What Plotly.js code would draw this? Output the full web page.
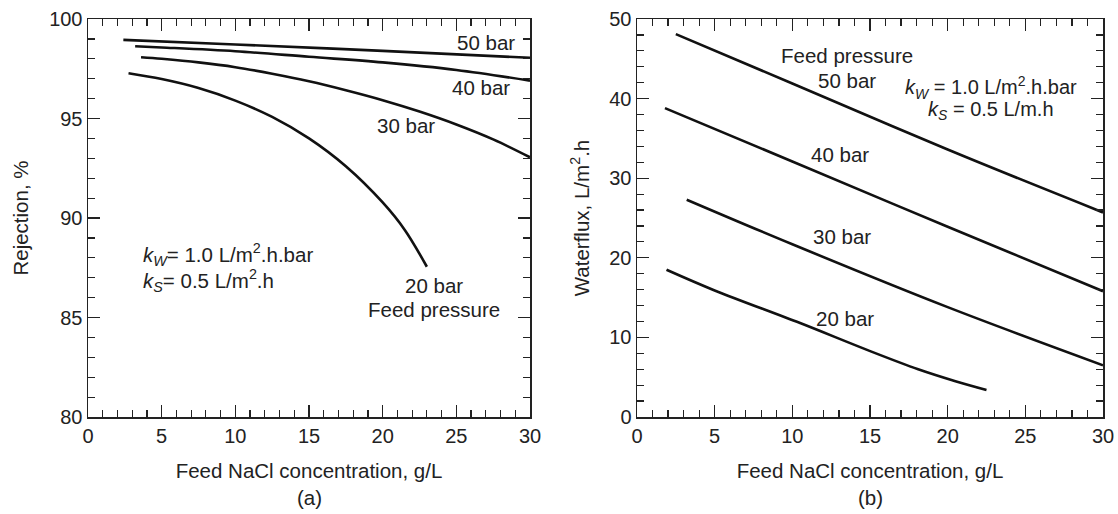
<!DOCTYPE html>
<html>
<head>
<meta charset="utf-8">
<script src="https://cdn.plot.ly/plotly-3.0.1.min.js"></script>
<style>html,body{margin:0;padding:0;background:#fff;}#chart{width:1118px;height:514px;}</style>
</head>
<body>
<div id="chart"></div>
<script>
// ---- Panel (a): Rejection vs feed concentration ----
const rejX50 = [2.4, 10, 20, 30];
const rejY50 = [98.95, 98.72, 98.4, 98.05];
const rejX40 = [3.2, 5, 10, 15, 20, 25, 30];
const rejY40 = [98.63, 98.57, 98.38, 98.1, 97.82, 97.44, 96.9];
const rejX30 = [3.6, 5, 7.5, 10, 12.5, 15, 17.5, 20, 22.5, 25, 27.5, 30];
const rejY30 = [98.08, 98.0, 97.82, 97.58, 97.25, 96.87, 96.42, 95.92, 95.35, 94.7, 93.95, 93.05];
const rejX20 = [2.75, 5, 7.5, 10, 12.5, 15, 17.5, 20, 21.5, 23];
const rejY20 = [97.27, 96.98, 96.53, 95.9, 95.08, 94.0, 92.6, 90.78, 89.4, 87.55];

// ---- Panel (b): Water flux vs feed concentration ----
const fluxX50 = [2.5, 10, 20, 30];
const fluxY50 = [48.1, 41.9, 33.6, 25.7];
const fluxX40 = [1.8, 10, 20, 30];
const fluxY40 = [38.8, 32.1, 23.9, 15.8];
const fluxX30 = [3.2, 10, 20, 30];
const fluxY30 = [27.3, 21.7, 13.8, 6.5];
const fluxX20 = [1.9, 5, 10.5, 14.85, 18.1, 20.5, 22.5];
const fluxY20 = [18.5, 15.9, 11.8, 8.4, 6.0, 4.5, 3.4];

const xTitle = 'Feed NaCl concentration, g/L';
const yTitleA = 'Rejection, %';
const yTitleB = 'Waterflux, L/m<sup>2</sup>.h';

const lineStyle = {color: '#111', width: 2.6, shape: 'spline', smoothing: 1};
function tr(x, y, xa, ya) {
  return {x: x, y: y, xaxis: xa, yaxis: ya, type: 'scatter', mode: 'lines', line: lineStyle, hoverinfo: 'skip', showlegend: false};
}
const data = [
  tr(rejX50, rejY50, 'x', 'y'), tr(rejX40, rejY40, 'x', 'y'),
  tr(rejX30, rejY30, 'x', 'y'), tr(rejX20, rejY20, 'x', 'y'),
  tr(fluxX50, fluxY50, 'x2', 'y2'), tr(fluxX40, fluxY40, 'x2', 'y2'),
  tr(fluxX30, fluxY30, 'x2', 'y2'), tr(fluxX20, fluxY20, 'x2', 'y2')
];

const FONT = 'Liberation Sans, Arial, sans-serif';
const ink = '#222';
const TFS = 20, LFS = 20.5;
function axis(extra) {
  return Object.assign({
    showline: true, linecolor: ink, linewidth: 1.5, mirror: 'ticks',
    ticks: 'inside', ticklen: 12, tickwidth: 1.3, tickcolor: ink,
    showgrid: false, zeroline: false, automargin: false,
    tickfont: {family: FONT, size: TFS, color: ink},
    fixedrange: true
  }, extra);
}
const W = 1118, H = 514;
const dAx = [88 / W, 530 / W], dBx = [637 / W, 1103 / W];
const dy = [1 - 417 / H, 1 - 19 / H];

function ann(text, x, y, xr, yr, anchor, size) {
  return {text: text, x: x, y: y, xref: xr, yref: yr, showarrow: false,
    xanchor: anchor || 'center', yanchor: 'middle',
    font: {family: FONT, size: size || LFS, color: ink}};
}
const annotations = [
  ann('50 bar', 27.0, 98.8, 'x', 'y'),
  ann('40 bar', 26.7, 96.58, 'x', 'y'),
  ann('30 bar', 21.6, 94.65, 'x', 'y'),
  ann('<i>k</i><sub><i>W</i></sub>= 1.0 L/m<sup>2</sup>.h.bar', 3.6, 88.15, 'x', 'y', 'left'),
  ann('<i>k</i><sub><i>S</i></sub>= 0.5 L/m<sup>2</sup>.h', 3.6, 86.85, 'x', 'y', 'left'),
  ann('20 bar', 23.5, 86.63, 'x', 'y'),
  ann('Feed pressure', 23.5, 85.38, 'x', 'y'),
  ann('Feed pressure', 13.55, 45.4, 'x2', 'y2'),
  ann('50 bar', 13.55, 42.3, 'x2', 'y2'),
  ann('<i>k</i><sub><i>W</i></sub> = 1.0 L/m<sup>2</sup>.h.bar', 17.1, 41.4, 'x2', 'y2', 'left', 20),
  ann('<i>k</i><sub><i>S</i></sub> = 0.5 L/m.h', 18.6, 38.5, 'x2', 'y2', 'left', 20),
  ann('40 bar', 13.1, 33.0, 'x2', 'y2'),
  ann('30 bar', 13.2, 22.7, 'x2', 'y2'),
  ann('20 bar', 13.4, 12.4, 'x2', 'y2'),
  ann('(a)', 309 / W, 1 - 497 / H, 'paper', 'paper'),
  ann('(b)', 870 / W, 1 - 497 / H, 'paper', 'paper')
];

const minorX = {dtick: 1, ticks: 'inside', ticklen: 7, tickwidth: 1.2, tickcolor: ink, showgrid: false};
const titleFont = {family: FONT, size: LFS, color: ink};
const layout = {
  width: W, height: H,
  margin: {l: 0, r: 0, t: 0, b: 0},
  paper_bgcolor: '#fff', plot_bgcolor: '#fff',
  font: {family: FONT, size: TFS, color: ink},
  xaxis: axis({domain: dAx, range: [0, 30], dtick: 5, tick0: 0, anchor: 'y', minor: minorX,
    title: {text: xTitle, font: titleFont, standoff: 18}}),
  yaxis: axis({domain: dy, range: [80, 100], dtick: 5, tick0: 80, anchor: 'x',
    minor: {dtick: 1, ticks: 'inside', ticklen: 7, tickwidth: 1.2, tickcolor: ink, showgrid: false},
    title: {text: yTitleA, font: titleFont, standoff: 15}}),
  xaxis2: axis({domain: dBx, range: [0, 30], dtick: 5, tick0: 0, anchor: 'y2', minor: minorX,
    title: {text: xTitle, font: titleFont, standoff: 18}}),
  yaxis2: axis({domain: dy, range: [0, 50], dtick: 10, tick0: 0, anchor: 'x2',
    minor: {dtick: 2, ticks: 'inside', ticklen: 7, tickwidth: 1.2, tickcolor: ink, showgrid: false},
    title: {text: yTitleB, font: titleFont, standoff: 14}}),
  annotations: annotations
};
Plotly.newPlot('chart', data, layout, {displayModeBar: false, staticPlot: true});
</script>
</body>
</html>
